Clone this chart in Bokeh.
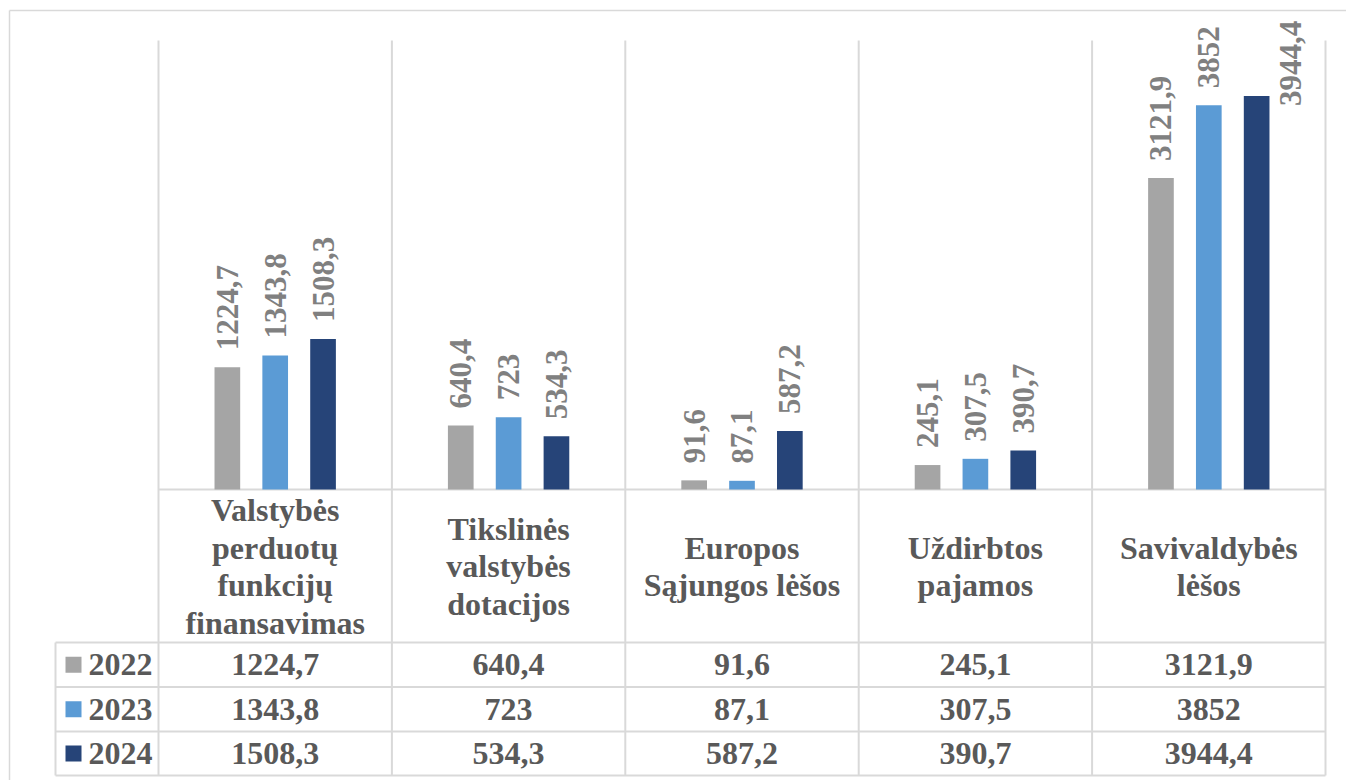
from bokeh.plotting import figure
from bokeh.models import Range1d, ColumnDataSource
from bokeh.embed import file_html
from bokeh.resources import INLINE
from bokeh.core.properties import value

# ---- data ----
categories = ["Valstybės\nperduotų\nfunkcijų\nfinansavimas",
              "Tikslinės\nvalstybės\ndotacijos",
              "Europos\nSąjungos lėšos",
              "Uždirbtos\npajamos",
              "Savivaldybės\nlėšos"]
years = ["2022", "2023", "2024"]
v2022 = [1224.7, 640.4, 91.6, 245.1, 3121.9]
v2023 = [1343.8, 723.0, 87.1, 307.5, 3852.0]
v2024 = [1508.3, 534.3, 587.2, 390.7, 3944.4]
series = [v2022, v2023, v2024]
colors = ["#A5A5A5", "#5B9BD5", "#264478"]
YMAX = 4500

# ---- layout helpers (page pixels -> data units) ----
W, H = 1346, 780
ORG = 0
BASE = 489.0
K = (BASE - 40.0) / YMAX      # px per unit
CW = (1325.0 - 158.0) / len(categories)

def py(page_y):
    return (BASE - page_y) / K

def px(page_x):
    return (page_x - 158.0) / CW

def fmt(v):
    return f"{v:g}".replace(".", ",")

p = figure(width=W, height=H, output_backend="svg", toolbar_location=None,
           x_range=Range1d(px(ORG), px(ORG + W)), y_range=Range1d(py(ORG + H), py(ORG)),
           x_axis_location=None, y_axis_location=None, min_border=0,
           outline_line_color=None, background_fill_color="white")
p.grid.visible = False

GRID = "#D9D9D9"
n = len(categories)
row_lines = [py(642), py(686.5), py(731), py(775)]

# outer chart border (left and top)
p.segment(x0=[px(9), px(9)], y0=[py(10), py(10)], x1=[px(9), px(ORG + W)], y1=[py(ORG + H), py(10)],
          line_color=GRID, line_width=1.5)
# vertical category separators
p.segment(x0=list(range(n + 1)), y0=[row_lines[-1]] * (n + 1), x1=list(range(n + 1)), y1=[YMAX] * (n + 1),
          line_color=GRID, line_width=2)
# baseline
p.segment(x0=[0], y0=[0], x1=[n], y1=[0], line_color=GRID, line_width=2)
# table lines
p.segment(x0=[px(55)] * 4, y0=row_lines, x1=[n] * 4, y1=row_lines, line_color=GRID, line_width=2)
p.segment(x0=[px(55)], y0=[row_lines[0]], x1=[px(55)], y1=[row_lines[-1]], line_color=GRID, line_width=2)

# bars
offsets = [-0.205, 0.0, 0.205]
LABEL_PX = 31
for s, (vals, col, off) in enumerate(zip(series, colors, offsets)):
    xs = [i + 0.5 + off for i in range(n)]
    p.vbar(x=xs, top=vals, width=0.11, bottom=0, fill_color=col, line_color=None)
    texts = [fmt(v) for v in vals]
    xo, yo = [], []
    for v, t in zip(vals, texts):
        length = (len(t.replace(",", "")) * 0.5 + t.count(",") * 0.25) * LABEL_PX
        top_px = BASE - v * K
        if top_px - 17 - length < 15:
            xo.append(34); yo.append(10)
        else:
            xo.append(0); yo.append(-17)
    src = ColumnDataSource(dict(x=xs, y=vals, t=texts, xo=xo, yo=yo))
    p.text(x="x", y="y", text="t", source=src, angle=1.5708, x_offset="xo", y_offset="yo",
           text_align="left", text_baseline="middle", text_font=value("Liberation Serif"),
           text_font_style="bold", text_font_size=f"{LABEL_PX}px", text_color="#808080")

# category labels
p.text(x=[i + 0.5 for i in range(n)], y=[py(566)] * n, text=categories,
       text_align="center", text_baseline="middle", text_font=value("Liberation Serif"),
       text_font_style="bold", text_font_size="32px", text_color="#595959",
       text_line_height=1.05)

# data table
row_centers = [(row_lines[r] + row_lines[r + 1]) / 2 for r in range(3)]
for r, (vals, col, yr) in enumerate(zip(series, colors, years)):
    yc = row_centers[r]
    p.scatter(x=[px(73)], y=[yc], marker="square", size=16, fill_color=col, line_color=None)
    p.text(x=[px(88)], y=[yc], text=[yr], text_align="left", text_baseline="middle",
           text_font=value("Liberation Serif"), text_font_style="bold",
           text_font_size="32px", text_color="#595959")
    p.text(x=[i + 0.5 for i in range(n)], y=[yc] * n, text=[fmt(v) for v in vals],
           text_align="center", text_baseline="middle", text_font=value("Liberation Serif"),
           text_font_style="bold", text_font_size="32px", text_color="#595959")

open("out.html", "w").write(file_html(p, INLINE))
